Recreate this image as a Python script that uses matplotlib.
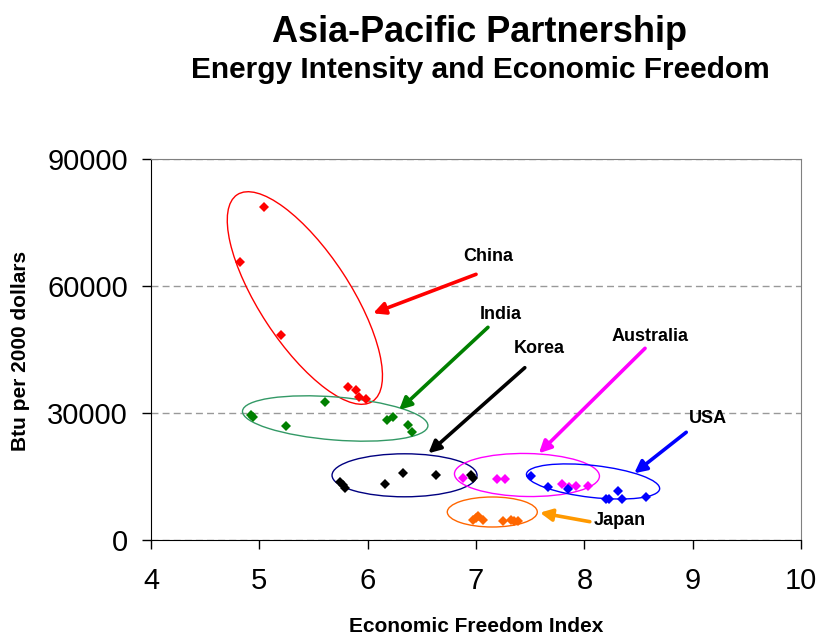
import matplotlib.pyplot as plt
from matplotlib.patches import Ellipse
from matplotlib.transforms import ScaledTranslation

plt.rcParams['font.family'] = ['Liberation Sans', 'DejaVu Sans']

# Economic freedom index (x) and energy intensity in Btu per 2000 dollars (y)
china_x = [5.04, 4.82, 5.20, 5.82, 5.89, 5.92, 5.98]
china_y = [78700, 65600, 48500, 36100, 35400, 33700, 33400]

india_x = [4.92, 4.94, 5.25, 5.61, 6.18, 6.23, 6.37, 6.41]
india_y = [29600, 29100, 26900, 32700, 28300, 29100, 27200, 25400]

korea_x = [5.74, 5.77, 5.79, 6.16, 6.33, 6.63, 6.95, 6.97]
korea_y = [13600, 13000, 12300, 13150, 15750, 15350, 15400, 14700]

australia_x = [6.88, 7.19, 7.27, 7.79, 7.86, 7.92, 8.03]
australia_y = [14700, 14400, 14400, 13150, 12600, 12830, 12830]

usa_x = [7.51, 7.66, 7.85, 8.20, 8.23, 8.31, 8.35, 8.57]
usa_y = [15200, 12600, 12050, 9700, 9700, 11650, 9700, 10230]

japan_x = [6.97, 7.00, 7.02, 7.06, 7.25, 7.32, 7.35, 7.39]
japan_y = [4800, 5300, 5700, 4700, 4500, 4800, 4600, 4400]

x_ticks = [4, 5, 6, 7, 8, 9, 10]
y_ticks = [0, 30000, 60000, 90000]

fig = plt.figure(figsize=(8.19, 6.34), dpi=100)
ax = fig.add_axes([0.1844, 0.1483, 0.7937, 0.6009])

series = [
    (china_x, china_y, '#FF0000'),
    (india_x, india_y, '#008000'),
    (korea_x, korea_y, '#000000'),
    (australia_x, australia_y, '#FF00FF'),
    (usa_x, usa_y, '#0000FF'),
    (japan_x, japan_y, '#FF6600'),
]
for xs, ys, color in series:
    ax.plot(xs, ys, linestyle='none', marker='D', markersize=5.6,
            color=color, markeredgewidth=0, zorder=3)

# ellipses: centre in data units, size in inches, angle on screen
rings = [
    (5.42, 57160, 2.47, 0.91, -56.8, '#FF0000'),
    (5.70, 28700, 1.86, 0.43, -4.6, '#339966'),
    (6.34, 15280, 1.45, 0.43, 0, '#000080'),
    (7.47, 15350, 1.45, 0.43, -1, '#FF00FF'),
    (8.08, 13820, 1.34, 0.32, -6.4, '#0000FF'),
    (7.15, 6610, 0.90, 0.30, 0, '#FF6600'),
]
for cx, cy, w, h, ang, color in rings:
    trans = fig.dpi_scale_trans + ScaledTranslation(cx, cy, ax.transData)
    ax.add_patch(Ellipse((0, 0), w, h, angle=ang, transform=trans,
                         fill=False, edgecolor=color, lw=1.0, zorder=2))

# labels with arrows pointing at each group
notes = [
    ('China', (7.11, 66900), (7.00, 62760), (6.05, 53550), '#FF0000'),
    ('India', (7.23, 53150), (7.11, 50240), (6.29, 30710), '#008000'),
    ('Korea', (7.58, 45280), (7.45, 40700), (6.56, 20480), '#000000'),
    ('Australia', (8.61, 48020), (8.56, 45280), (7.58, 20480), '#FF00FF'),
    ('USA', (9.14, 28580), (8.94, 25440), (8.46, 15760), '#0000FF'),
    ('Japan', (8.33, 4490), (8.05, 4320), (7.59, 6450), '#FF9900'),
]
for name, text_xy, tail, tip, color in notes:
    ax.text(text_xy[0], text_xy[1], name, fontsize=13, fontweight='bold',
            ha='center', va='center')
    ax.annotate('', xy=tip, xytext=tail,
                arrowprops=dict(arrowstyle='-|>', color=color, lw=2.6,
                                mutation_scale=18, shrinkA=0, shrinkB=0))

ax.set_xlim(4, 10)
ax.set_ylim(0, 90000)
ax.set_xticks(x_ticks)
ax.set_yticks(y_ticks)
ax.tick_params(axis='both', direction='out', length=6.5, width=1, labelsize=21)
ax.tick_params(axis='x', pad=13)
ax.tick_params(axis='y', pad=10)

ax.yaxis.grid(True, linestyle=(0, (5, 3)), color='#999999', lw=1)
ax.set_axisbelow(True)
for side in ['top', 'right']:
    ax.spines[side].set_color('#808080')
ax.spines['left'].set_color('black')
ax.spines['bottom'].set_color('black')

fig.text(0.586, 0.9495, 'Asia-Pacific Partnership', fontsize=26,
         fontweight='bold', ha='center', va='center')
fig.text(0.586, 0.8896, 'Energy Intensity and Economic Freedom', fontsize=21.5,
         fontweight='bold', ha='center', va='center')
fig.text(0.582, 0.0126, 'Economic Freedom Index', fontsize=15,
         fontweight='bold', ha='center', va='center')
fig.text(0.0256, 0.4464, 'Btu per 2000 dollars', fontsize=15,
         fontweight='bold', ha='center', va='center', rotation=90)

plt.savefig('out.png', dpi=100)
